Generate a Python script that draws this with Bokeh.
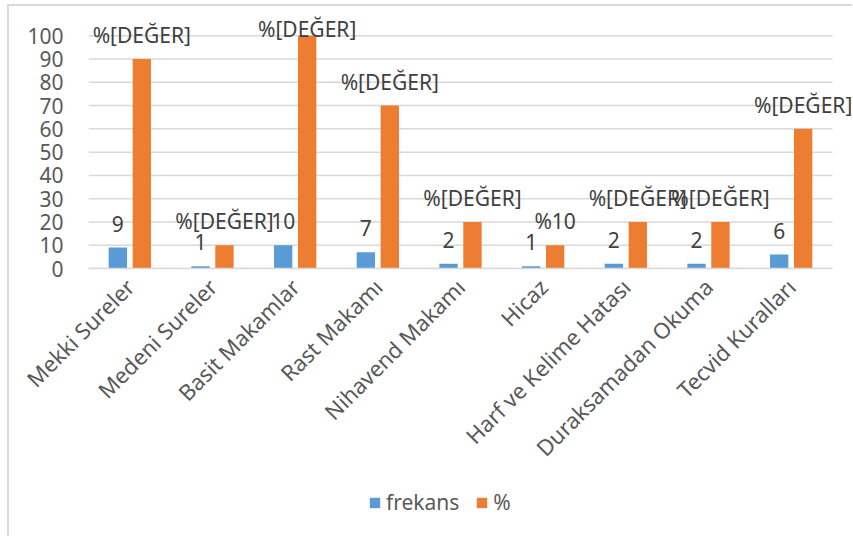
import numpy as np
from bokeh.plotting import figure
from bokeh.layouts import column
from bokeh.models import ColumnDataSource, Range1d, Legend, LegendItem, FixedTicker
from bokeh.transform import dodge
from bokeh.core.properties import value
from bokeh.embed import file_html
from bokeh.resources import INLINE

categories = ["Mekki Sureler", "Medeni Sureler", "Basit Makamlar", "Rast Makamı",
              "Nihavend Makamı", "Hicaz", "Harf ve Kelime Hatası",
              "Duraksamadan Okuma", "Tecvid Kuralları"]
frekans = [9, 1, 10, 7, 2, 1, 2, 2, 6]
yuzde = [90, 10, 100, 70, 20, 10, 20, 20, 60]
frekans_labels = ["9", "1", "10", "7", "2", "1", "2", "2", "6"]
yuzde_labels = ["%[DEĞER]", "%[DEĞER]", "%[DEĞER]", "%[DEĞER]", "%[DEĞER]",
                "%10", "%[DEĞER]", "%[DEĞER]", "%[DEĞER]"]
series_names = ["frekans", "%"]
y_ticks = [0, 10, 20, 30, 40, 50, 60, 70, 80, 90, 100]

BLUE = "#5B9BD5"
ORANGE = "#ED7D31"
FONT = "Noto Sans"
LABEL_CAP = 92.5  # keep data labels inside chart area (like Excel)

n = len(categories)
idx = list(range(n))
src = ColumnDataSource(dict(
    idx=idx, frekans=frekans, yuzde=yuzde,
    flab=frekans_labels, plab=yuzde_labels,
    plab_y=list(np.minimum(np.array(yuzde, dtype=float), LABEL_CAP)),
))
grid_src = ColumnDataSource(dict(
    x0=[-0.5] * len(y_ticks), x1=[n - 0.5] * len(y_ticks), y=y_ticks))

p = figure(x_range=Range1d(-0.5, n - 0.5 + 0.23), y_range=Range1d(0, 110),
           width=843, height=476, output_backend="svg", toolbar_location=None,
           min_border_left=79, min_border_right=1, min_border_top=6,
           min_border_bottom=214)

p.segment(x0="x0", x1="x1", y0="y", y1="y", source=grid_src,
          line_color="#D9D9D9", line_width=1.5)

off = 0.145
w = 0.222
p.vbar(x=dodge("idx", -off), top="frekans", width=w,
       source=src, color=BLUE, line_color=None)
p.vbar(x=dodge("idx", off), top="yuzde", width=w,
       source=src, color=ORANGE, line_color=None)

p.text(x=dodge("idx", -off), y="frekans", text="flab", source=src,
       y_offset=-24, text_align="center", text_baseline="middle",
       text_font=value(FONT), text_font_size="21px", text_color="#404040")
p.text(x=dodge("idx", off), y="plab_y", text="plab", source=src,
       y_offset=-24, text_align="center", text_baseline="middle",
       text_font=value(FONT), text_font_size="21px", text_color="#404040")

p.outline_line_color = None
p.xgrid.grid_line_color = None
p.ygrid.grid_line_color = None
p.yaxis.ticker = FixedTicker(ticks=y_ticks)
p.yaxis.axis_line_color = None
p.yaxis.major_tick_line_color = None
p.yaxis.minor_tick_line_color = None
p.yaxis.major_label_standoff = 19
p.yaxis.major_label_text_font = FONT
p.yaxis.major_label_text_font_size = "21px"
p.yaxis.major_label_text_color = "#595959"

p.xaxis.ticker = FixedTicker(ticks=idx)
p.xaxis.major_label_overrides = {i: c for i, c in zip(idx, categories)}
p.xaxis.bounds = (-0.5, n - 0.5)
p.xaxis.axis_line_color = "#D9D9D9"
p.xaxis.axis_line_width = 1.5
p.xaxis.major_tick_line_color = None
p.xaxis.minor_tick_line_color = None
p.xaxis.major_label_orientation = np.pi / 4
p.xaxis.major_label_standoff = 8
p.xaxis.major_label_text_font = FONT
p.xaxis.major_label_text_font_size = "22px"
p.xaxis.major_label_text_color = "#595959"

# legend strip below the chart (hidden copies of the series, only legend shown)
lg = figure(width=843, height=54, output_backend="svg", toolbar_location=None,
            x_range=Range1d(-0.5, n - 0.5), y_range=Range1d(0, 110),
            min_border_left=79, min_border_right=1, min_border_top=0,
            min_border_bottom=0)
lg.axis.visible = False
lg.grid.visible = False
lg.outline_line_color = None
r1 = lg.vbar(x="idx", top="frekans", width=w, source=src, color=BLUE,
             line_color=None, visible=False)
r2 = lg.vbar(x="idx", top="yuzde", width=w, source=src, color=ORANGE,
             line_color=None, visible=False)
legend = Legend(items=[LegendItem(label=series_names[0], renderers=[r1]),
                       LegendItem(label=series_names[1], renderers=[r2])],
                orientation="horizontal", location=(280, 20),
                glyph_width=13, glyph_height=13, label_standoff=5, spacing=16,
                padding=0, margin=0, border_line_alpha=0, background_fill_alpha=0,
                inactive_fill_alpha=0,
                label_text_font=FONT, label_text_font_size="21px",
                label_text_color="#595959")
lg.add_layout(legend, "center")

layout = column(p, lg, spacing=0)
layout.styles = {"border-top": "2px solid #d9d9d9", "border-left": "2px solid #d9d9d9",
                 "margin-left": "7px", "margin-top": "4px"}

open("out.html", "w").write(file_html(layout, INLINE))
